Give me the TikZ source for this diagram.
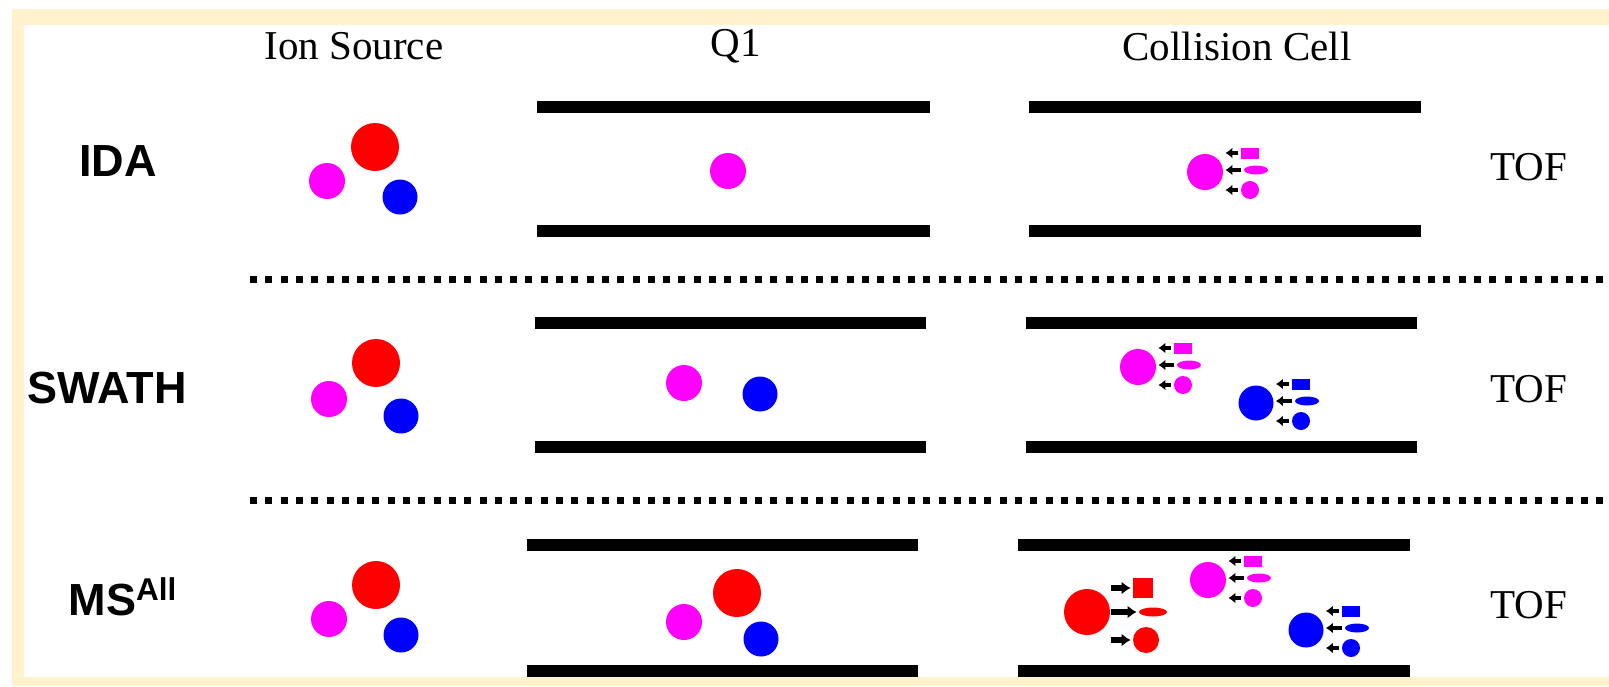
\documentclass[tikz,border=0pt]{standalone}
\usepackage{xcolor}
\usepackage{fontspec}
\setmainfont{Liberation Serif}
\setsansfont{Liberation Sans}
\usepackage[]{tikz}
\usetikzlibrary{positioning,shapes.geometric}
\usetikzlibrary{arrows.meta}
\definecolor{cream}{HTML}{FFF2CC}
\definecolor{ionred}{RGB}{255,0,0}
\definecolor{ionmag}{RGB}{255,0,255}
\definecolor{ionblue}{RGB}{0,0,255}
\tikzset{head text/.style={font=\fontsize{20.5}{24}\selectfont,inner sep=0pt}}
\tikzset{mode text/.style={font=\sffamily\bfseries\fontsize{22.5}{26}\selectfont,inner sep=0pt}}
\tikzset{ion/.style={circle,inner sep=0pt,draw=none}}
\tikzset{big ion/.style={ion,fill=ionred,minimum size=24pt}}
\tikzset{mid ion/.style={ion,fill=ionmag,minimum size=18pt}}
\tikzset{small ion/.style={ion,fill=ionblue,minimum size=17.5pt}}
\tikzset{frag box/.style={rectangle,inner sep=0pt,minimum width=9pt,minimum height=5.5pt}}
\tikzset{frag oval/.style={ellipse,inner sep=0pt,minimum width=12pt,minimum height=4.5pt}}
\tikzset{frag dot/.style={circle,inner sep=0pt,minimum size=9pt}}
\tikzset{back arrow/.style={-{Latex[length=3.5pt,width=5.5pt]},line width=2.2pt,shorten <=1.5pt,shorten >=1pt}}
\tikzset{fwd arrow/.style={-{Latex[length=4.5pt,width=6.5pt]},line width=2.6pt,shorten <=0.5pt,shorten >=1pt}}
\tikzset{rod/.style={line width=6pt}}
\tikzset{divider/.style={line width=3.5pt,dash pattern=on 3.5pt off 4.15pt}}

% three fragments next to a precursor, arrows pointing back
\newcommand{\smallfrags}[2]{%
  \node[frag box,fill=#2] (#1-a) [above right=9.5pt and 22.5pt of #1] {};
  \node[frag oval,fill=#2] (#1-b) [above right=1pt and 25.5pt of #1] {};
  \node[frag dot,fill=#2] (#1-c) [below right=9pt and 22.5pt of #1] {};
  \foreach \f in {a,b,c}
    \draw[back arrow] (#1-\f) -- (#1-\f.west -| #1.east);
}

\begin{document}
\begin{tikzpicture}[x=0.5pt, y=-0.5pt, on grid]
      \useasboundingbox (0,0) rectangle (1609,686);
      \fill[cream] (12,9) rectangle (1609,686);
      \fill[white] (24,25) rectangle (1609,677);

      % column heads
      \node[head text] (src) at (354,46) {Ion Source};
      \node[head text] (q1) at (736,46) {Q1};
      \node[head text] (cell) at (1237,46) {Collision Cell};

      % mode labels
      \node[mode text] (ida) at (118,161) {IDA};
      \node[mode text] (swath) at (107,388) {SWATH};
      \node[mode text] (msall) at (123,597) {MS\textsuperscript{All}};
      \node[head text] (tof1) at (1529,167) {TOF};
      \node[head text] (tof2) at (1529,389) {TOF};
      \node[head text] (tof3) at (1529,605) {TOF};

      % rods
      \draw[rod] (537,107) -- (930,107);
      \draw[rod] (537,231) -- (930,231);
      \draw[rod] (1029,107) -- (1421,107);
      \draw[rod] (1029,231) -- (1421,231);
      \draw[rod] (535,323) -- (926,323);
      \draw[rod] (535,447) -- (926,447);
      \draw[rod] (1026,323) -- (1417,323);
      \draw[rod] (1026,447) -- (1417,447);
      \draw[rod] (527,545) -- (918,545);
      \draw[rod] (527,671) -- (918,671);
      \draw[rod] (1018,545) -- (1410,545);
      \draw[rod] (1018,671) -- (1410,671);

      % separators
      \draw[divider] (250,279) -- (1609,279);
      \draw[divider] (250,500) -- (1609,500);

      % IDA
      \node[big ion] (s1r) at (375,147) {};
      \node[mid ion] (s1m) at (327,181) {};
      \node[small ion] (s1b) at (400,197) {};
      \node[mid ion] (q1m) at (728,171) {};
      \node[mid ion] (c1m) at (1205,172) {};
      \smallfrags{c1m}{ionmag}

      % SWATH
      \node[big ion] (s2r) at (376,363) {};
      \node[mid ion] (s2m) at (329,399) {};
      \node[small ion] (s2b) at (401,416) {};
      \node[mid ion] (q2m) at (684,383) {};
      \node[small ion] (q2b) at (760,394) {};
      \node[mid ion] (c2m) at (1138,367) {};
      \node[small ion] (c2b) at (1256,403) {};
      \smallfrags{c2m}{ionmag}
      \smallfrags{c2b}{ionblue}

      % MSAll
      \node[big ion] (s3r) at (376,585) {};
      \node[mid ion] (s3m) at (329,619) {};
      \node[small ion] (s3b) at (401,635) {};
      \node[big ion] (q3r) at (737,593) {};
      \node[mid ion] (q3m) at (684,622) {};
      \node[small ion] (q3b) at (761,639) {};
      \node[big ion,minimum size=23pt] (c3r) at (1087,612) {};
      \node[mid ion] (c3m) at (1208,580) {};
      \node[small ion] (c3b) at (1306,630) {};
      \node[frag box,fill=ionred,minimum size=10pt] (c3r-a) [above right=12pt and 28pt of c3r] {};
      \node[frag oval,fill=ionred,minimum width=14pt] (c3r-b) [right=33pt of c3r] {};
      \node[frag dot,fill=ionred,minimum size=13pt] (c3r-c) [below right=14pt and 29.5pt of c3r] {};
      \draw[fwd arrow] (c3r-a.west -| c3r.east) -- (c3r-a);
      \draw[fwd arrow] (c3r-b.west -| c3r.east) -- (c3r-b);
      \draw[fwd arrow] (c3r-c.west -| c3r.east) -- (c3r-c);
      \smallfrags{c3m}{ionmag}
      \smallfrags{c3b}{ionblue}
    \end{tikzpicture}
\end{document}
